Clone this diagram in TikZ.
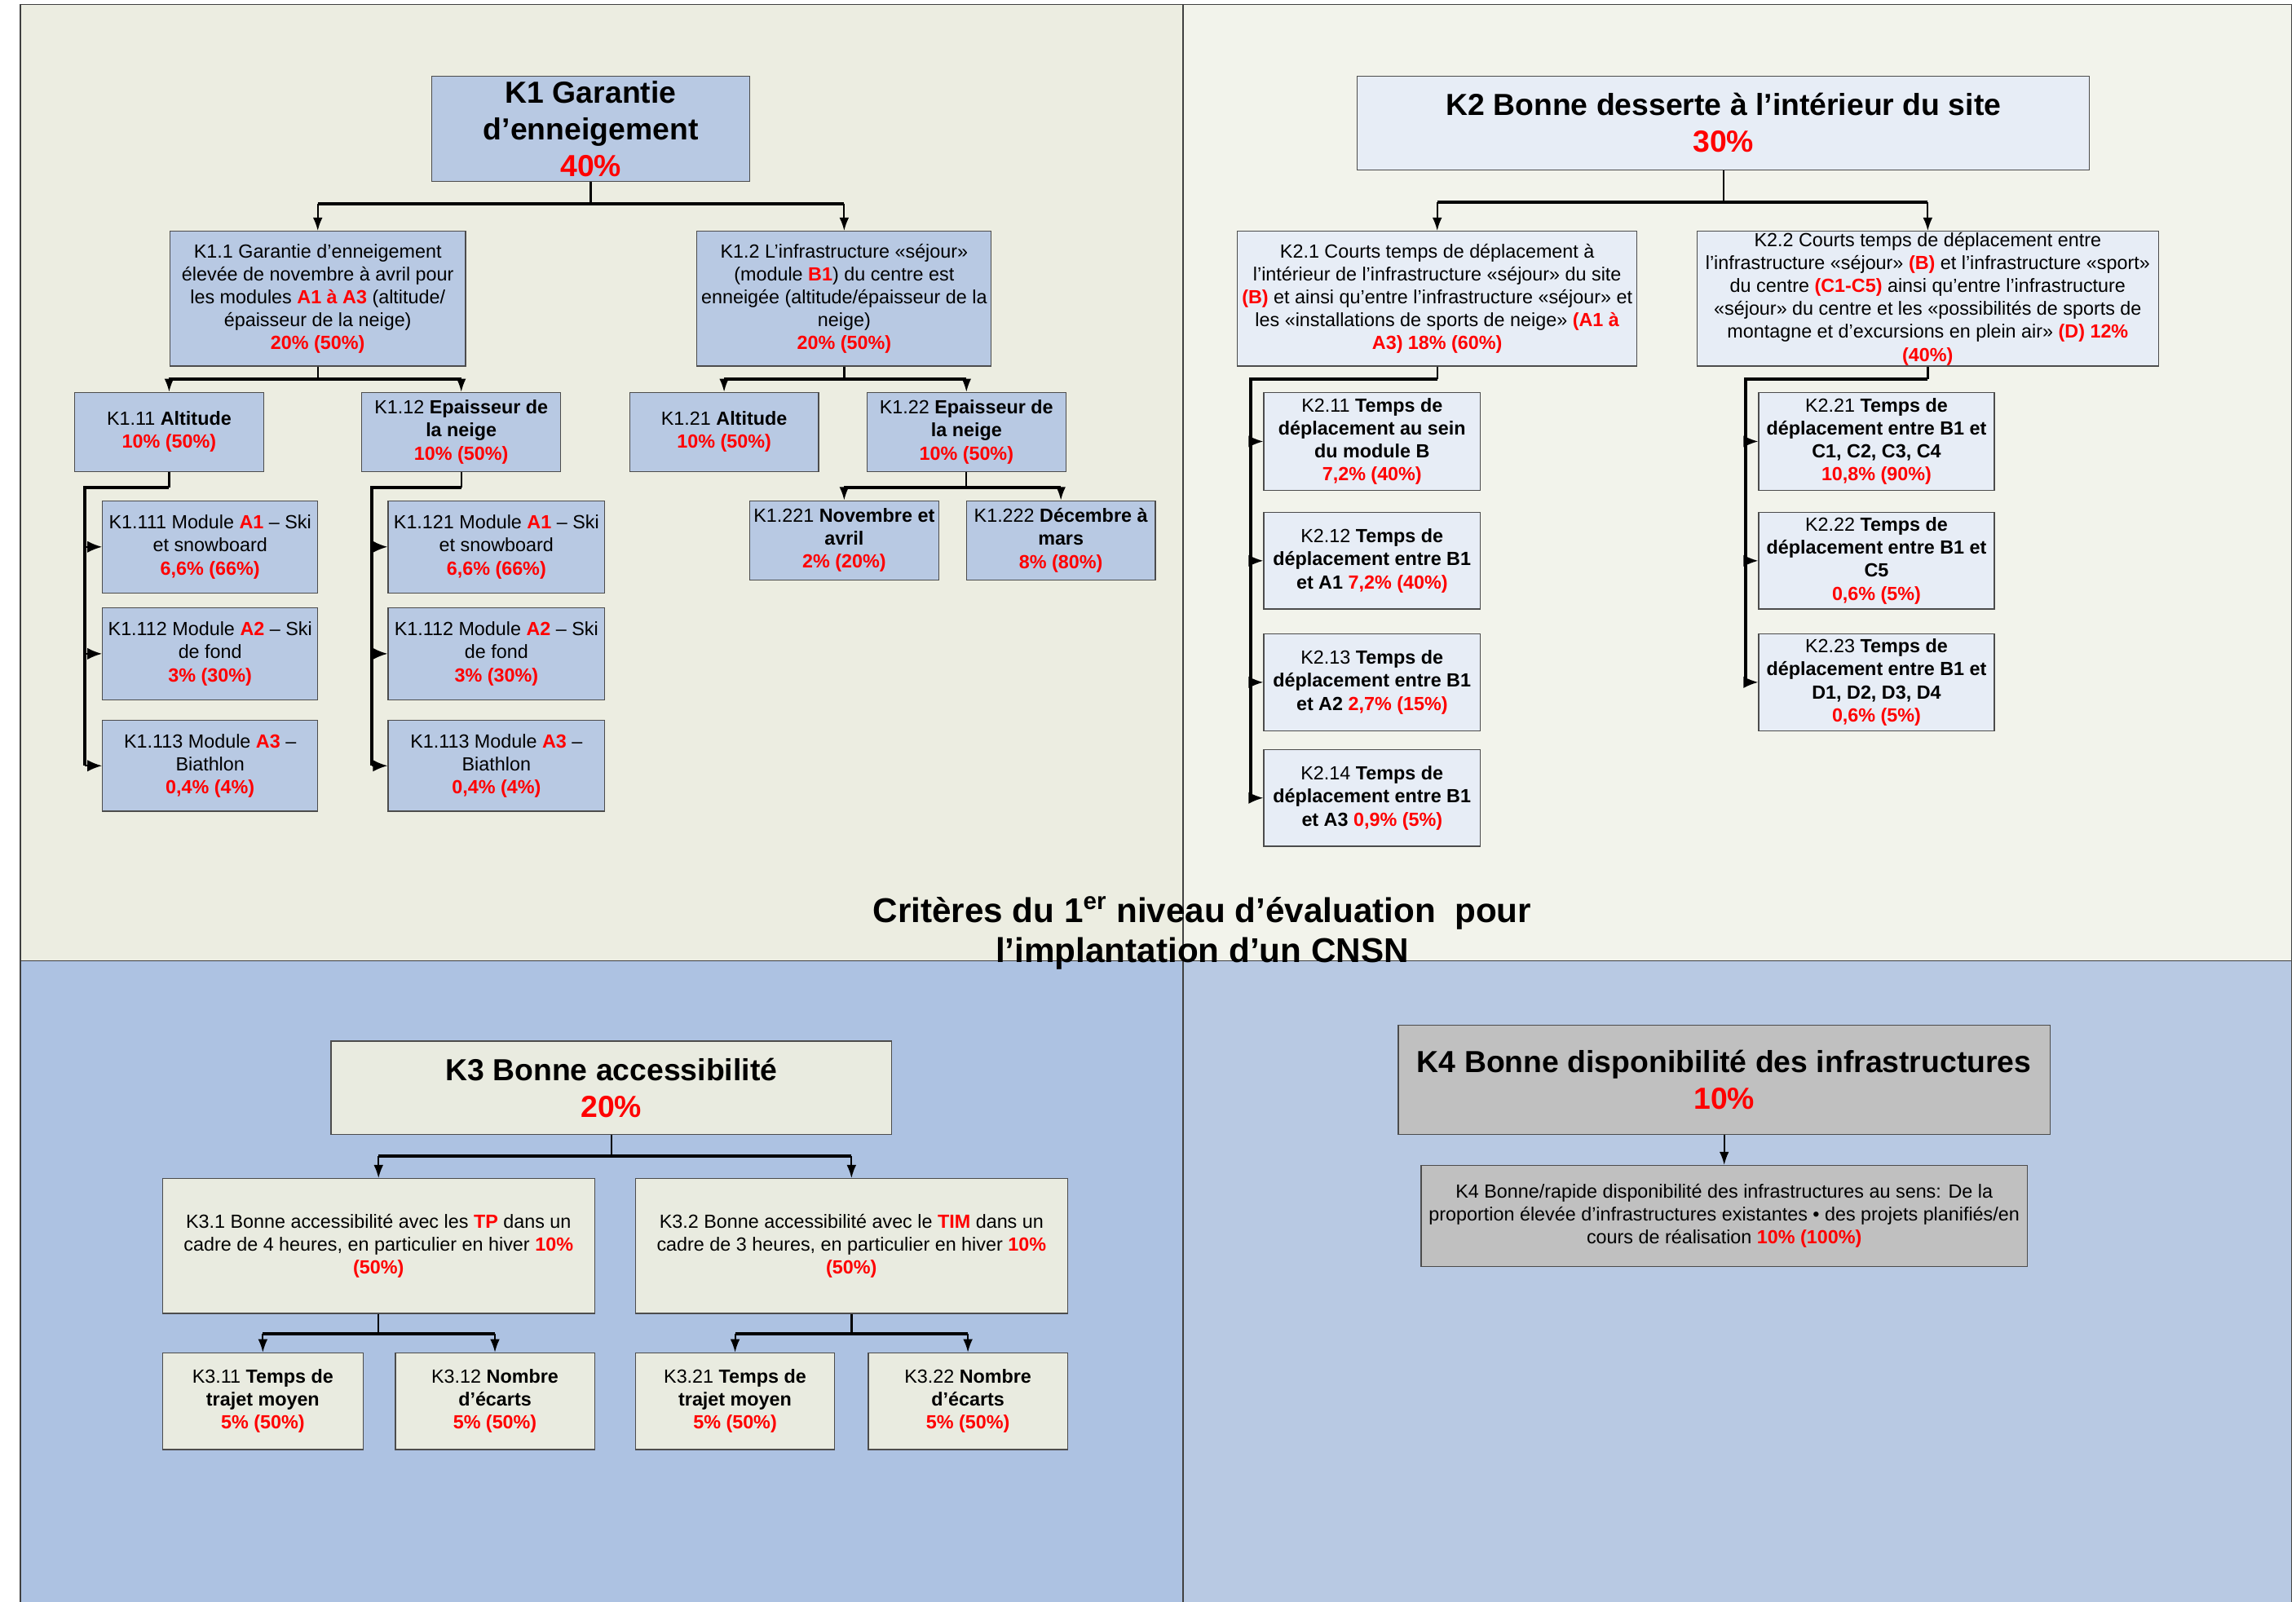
\documentclass[tikz,border=0pt]{standalone}
\usepackage{fontspec}
\setmainfont{Liberation Sans}
\usetikzlibrary{arrows.meta}
\definecolor{qtl}{HTML}{ECEDE1}
\definecolor{qtr}{HTML}{F2F3EB}
\definecolor{qbl}{HTML}{ADC2E2}
\definecolor{qbr}{HTML}{B8C9E3}
\definecolor{fone}{HTML}{B8C9E3}
\definecolor{ftwo}{HTML}{E7EDF6}
\definecolor{fthree}{HTML}{E9EBE0}
\definecolor{ffour}{HTML}{C0C0C0}
\definecolor{rd}{HTML}{FF0000}
\newcommand\rdb[1]{\textbf{\color{rd}#1}}
\begin{document}
\begin{tikzpicture}[x=1pt,y=-1pt,
  kbox/.style={draw=black!70, line width=0.7pt, inner sep=0pt, align=center,
    font=\fontsize{13}{15.7}\selectfont},
  ktitle/.style={kbox, font=\bfseries\fontsize{20.8}{25}\selectfont},
  sz/.style 2 args={minimum width=#1pt, minimum height=#2pt},
  bar/.style={line width=2.2pt},
  stem/.style={line width=1.3pt},
  arr/.style={line width=1.1pt, -{Latex[length=9pt,width=6.5pt]}},
  sarr/.style={line width=1.1pt, -{Latex[length=10pt,width=8pt]}},
  frame/.style={draw=black!75, line width=0.9pt}
]
\useasboundingbox (0,0) rectangle (1568,1094);
% quadrants
\fill[qtl] (14,3) rectangle (808,656);
\fill[qtr] (808,3) rectangle (1565,656);
\fill[qbl] (14,656) rectangle (808,1094);
\fill[qbr] (808,656) rectangle (1565,1094);
\draw[frame] (14,1094) -- (14,3) -- (1565,3) -- (1565,1094);
\draw[frame, line width=0.7pt] (808,3) -- (808,1094);
\draw[frame, line width=0.7pt] (14,656) -- (1565,656);

% ===== K1 =====
\node[ktitle, fill=fone, sz={217}{72}] (k1) at (403.5,88) {K1 Garantie\\d’enneigement\\\rdb{40\%}};
\node[kbox, fill=fone, sz={202}{92}] (k11) at (217,204) {K1.1 Garantie d’enneigement\\élevée de novembre à avril pour\\les modules \rdb{A1 à A3} (altitude/\\épaisseur de la neige)\\\rdb{20\% (50\%)}};
\node[kbox, fill=fone, sz={201}{92}] (k12) at (576.5,204) {K1.2 L’infrastructure «séjour»\\(module \rdb{B1}) du centre est\\enneigée (altitude/épaisseur de la\\neige)\\\rdb{20\% (50\%)}};
\node[kbox, fill=fone, sz={129}{54}] (k111) at (115.5,295) {K1.11 \textbf{Altitude}\\\rdb{10\% (50\%)}};
\node[kbox, fill=fone, sz={136}{54}] (k112) at (315,295) {K1.12 \textbf{Epaisseur de}\\\textbf{la neige}\\\rdb{10\% (50\%)}};
\node[kbox, fill=fone, sz={129}{54}] (k121) at (494.5,295) {K1.21 \textbf{Altitude}\\\rdb{10\% (50\%)}};
\node[kbox, fill=fone, sz={136}{54}] (k122) at (660,295) {K1.22 \textbf{Epaisseur de}\\\textbf{la neige}\\\rdb{10\% (50\%)}};
\node[kbox, fill=fone, sz={147}{63}] (k1111) at (143.5,373.5) {K1.111 Module \rdb{A1} – Ski\\et snowboard\\\rdb{6,6\% (66\%)}};
\node[kbox, fill=fone, sz={147}{63}] (k1112) at (143.5,446.5) {K1.112 Module \rdb{A2} – Ski\\de fond\\\rdb{3\% (30\%)}};
\node[kbox, fill=fone, sz={147}{62}] (k1113) at (143.5,523) {K1.113 Module \rdb{A3} –\\Biathlon\\\rdb{0,4\% (4\%)}};
\node[kbox, fill=fone, sz={148}{63}] (k1121) at (339,373.5) {K1.121 Module \rdb{A1} – Ski\\et snowboard\\\rdb{6,6\% (66\%)}};
\node[kbox, fill=fone, sz={148}{63}] (k1122) at (339,446.5) {K1.112 Module \rdb{A2} – Ski\\de fond\\\rdb{3\% (30\%)}};
\node[kbox, fill=fone, sz={148}{62}] (k1123) at (339,523) {K1.113 Module \rdb{A3} –\\Biathlon\\\rdb{0,4\% (4\%)}};
\node[kbox, fill=fone, sz={129}{54}] (k1221) at (576.5,369) {K1.221 \textbf{Novembre et}\\\textbf{avril}\\\rdb{2\% (20\%)}};
\node[kbox, fill=fone, sz={129}{54}] (k1222) at (724.5,369) {K1.222 \textbf{Décembre à}\\\textbf{mars}\\\rdb{8\% (80\%)}};

% K1 connectors
\coordinate (b1) at (403.5,139);
\draw[stem] (k1.south) -- (b1);
\draw[bar] (k11.north |- b1) -- (k12.north |- b1);
\draw[arr] (k11.north |- b1) -- (k11.north);
\draw[arr] (k12.north |- b1) -- (k12.north);
\coordinate (b11) at (217,259);
\draw[stem] (k11.south) -- (b11);
\draw[bar] (k111.north |- b11) -- (k112.north |- b11);
\draw[arr] (k111.north |- b11) -- (k111.north);
\draw[arr] (k112.north |- b11) -- (k112.north);
\coordinate (b12) at (576.5,259);
\draw[stem] (k12.south) -- (b12);
\draw[bar] (k121.north |- b12) -- (k122.north |- b12);
\draw[arr] (k121.north |- b12) -- (k121.north);
\draw[arr] (k122.north |- b12) -- (k122.north);
\coordinate (e111) at (58,333);
\draw[stem] (k111.south) -- (k111.south |- e111);
\draw[bar] (k111.south |- e111) -- (e111) -- (e111 |- k1113.west);
\draw[sarr] (e111 |- k1111.west) -- (k1111.west);
\draw[sarr] (e111 |- k1112.west) -- (k1112.west);
\draw[sarr] (e111 |- k1113.west) -- (k1113.west);
\coordinate (e112) at (254,333);
\draw[stem] (k112.south) -- (k112.south |- e112);
\draw[bar] (k112.south |- e112) -- (e112) -- (e112 |- k1123.west);
\draw[sarr] (e112 |- k1121.west) -- (k1121.west);
\draw[sarr] (e112 |- k1122.west) -- (k1122.west);
\draw[sarr] (e112 |- k1123.west) -- (k1123.west);
\coordinate (b122) at (660,333);
\draw[stem] (k122.south) -- (b122);
\draw[bar] (k1221.north |- b122) -- (k1222.north |- b122);
\draw[arr] (k1221.north |- b122) -- (k1221.north);
\draw[arr] (k1222.north |- b122) -- (k1222.north);

% ===== K2 =====
\node[ktitle, fill=ftwo, sz={500}{64}] (k2) at (1177,84) {K2 Bonne desserte à l’intérieur du site\\\rdb{30\%}};
\node[kbox, fill=ftwo, sz={273}{92}] (k21) at (981.5,204) {K2.1 Courts temps de déplacement à\\l’intérieur de l’infrastructure «séjour» du site\\\rdb{(B)} et ainsi qu’entre l’infrastructure «séjour» et\\les «installations de sports de neige» \rdb{(A1 à}\\\rdb{A3) 18\% (60\%)}};
\node[kbox, fill=ftwo, sz={315}{92}] (k22) at (1316.5,204) {K2.2 Courts temps de déplacement entre\\l’infrastructure «séjour» \rdb{(B)} et l’infrastructure «sport»\\du centre \rdb{(C1-C5)} ainsi qu’entre l’infrastructure\\«séjour» du centre et les «possibilités de sports de\\montagne et d’excursions en plein air» \rdb{(D) 12\%}\\\rdb{(40\%)}};
\node[kbox, fill=ftwo, sz={148}{67}] (k211) at (937,301.5) {K2.11 \textbf{Temps de}\\\textbf{déplacement au sein}\\\textbf{du module B}\\\rdb{7,2\% (40\%)}};
\node[kbox, fill=ftwo, sz={148}{66}] (k212) at (937,383) {K2.12 \textbf{Temps de}\\\textbf{déplacement entre B1}\\\textbf{et A1} \rdb{7,2\% (40\%)}};
\node[kbox, fill=ftwo, sz={148}{66}] (k213) at (937,466) {K2.13 \textbf{Temps de}\\\textbf{déplacement entre B1}\\\textbf{et A2} \rdb{2,7\% (15\%)}};
\node[kbox, fill=ftwo, sz={148}{66}] (k214) at (937,545) {K2.14 \textbf{Temps de}\\\textbf{déplacement entre B1}\\\textbf{et A3} \rdb{0,9\% (5\%)}};
\node[kbox, fill=ftwo, sz={161}{67}] (k221) at (1281.5,301.5) {K2.21 \textbf{Temps de}\\\textbf{déplacement entre B1 et}\\\textbf{C1, C2, C3, C4}\\\rdb{10,8\% (90\%)}};
\node[kbox, fill=ftwo, sz={161}{66}] (k222) at (1281.5,383) {K2.22 \textbf{Temps de}\\\textbf{déplacement entre B1 et}\\\textbf{C5}\\\rdb{0,6\% (5\%)}};
\node[kbox, fill=ftwo, sz={161}{66}] (k223) at (1281.5,466) {K2.23 \textbf{Temps de}\\\textbf{déplacement entre B1 et}\\\textbf{D1, D2, D3, D4}\\\rdb{0,6\% (5\%)}};

\coordinate (b2) at (1177,138);
\draw[stem] (k2.south) -- (b2);
\draw[bar] (k21.north |- b2) -- (k22.north |- b2);
\draw[arr] (k21.north |- b2) -- (k21.north);
\draw[arr] (k22.north |- b2) -- (k22.north);
\coordinate (e21) at (854,259);
\draw[stem] (k21.south) -- (k21.south |- e21);
\draw[bar] (k21.south |- e21) -- (e21) -- (e21 |- k214.west);
\draw[sarr] (e21 |- k211.west) -- (k211.west);
\draw[sarr] (e21 |- k212.west) -- (k212.west);
\draw[sarr] (e21 |- k213.west) -- (k213.west);
\draw[sarr] (e21 |- k214.west) -- (k214.west);
\coordinate (e22) at (1192,259);
\draw[stem] (k22.south) -- (k22.south |- e22);
\draw[bar] (k22.south |- e22) -- (e22) -- (e22 |- k223.west);
\draw[sarr] (e22 |- k221.west) -- (k221.west);
\draw[sarr] (e22 |- k222.west) -- (k222.west);
\draw[sarr] (e22 |- k223.west) -- (k223.west);

% ===== central title =====
\node[anchor=base, inner sep=0pt, font=\bfseries\fontsize{23.5}{27.5}\selectfont] (ttla) at (821,630) {Critères du 1\textsuperscript{er} niveau d’évaluation~ pour};
\node[anchor=base, inner sep=0pt, font=\bfseries\fontsize{23.5}{27.5}\selectfont] (ttlb) at (821,657.5) {l’implantation d’un CNSN};

% ===== K3 =====
\node[ktitle, fill=fthree, sz={383}{64}] (k3) at (417.5,743) {K3 Bonne accessibilité\\\rdb{20\%}};
\node[kbox, fill=fthree, sz={295}{92}] (k31) at (258.5,851) {K3.1 Bonne accessibilité avec les \rdb{TP} dans un\\cadre de 4 heures, en particulier en hiver \rdb{10\%}\\\rdb{(50\%)}};
\node[kbox, fill=fthree, sz={295}{92}] (k32) at (581.5,851) {K3.2 Bonne accessibilité avec le \rdb{TIM} dans un\\cadre de 3 heures, en particulier en hiver \rdb{10\%}\\\rdb{(50\%)}};
\node[kbox, fill=fthree, sz={137}{66}] (k311) at (179.5,957) {K3.11 \textbf{Temps de}\\\textbf{trajet moyen}\\\rdb{5\% (50\%)}};
\node[kbox, fill=fthree, sz={136}{66}] (k312) at (338,957) {K3.12 \textbf{Nombre}\\\textbf{d’écarts}\\\rdb{5\% (50\%)}};
\node[kbox, fill=fthree, sz={136}{66}] (k321) at (502,957) {K3.21 \textbf{Temps de}\\\textbf{trajet moyen}\\\rdb{5\% (50\%)}};
\node[kbox, fill=fthree, sz={136}{66}] (k322) at (661,957) {K3.22 \textbf{Nombre}\\\textbf{d’écarts}\\\rdb{5\% (50\%)}};

\coordinate (b3) at (417.5,789.5);
\draw[stem] (k3.south) -- (b3);
\draw[bar] (k31.north |- b3) -- (k32.north |- b3);
\draw[arr] (k31.north |- b3) -- (k31.north);
\draw[arr] (k32.north |- b3) -- (k32.north);
\coordinate (b31) at (258.5,911);
\draw[stem] (k31.south) -- (b31);
\draw[bar] (k311.north |- b31) -- (k312.north |- b31);
\draw[arr] (k311.north |- b31) -- (k311.north);
\draw[arr] (k312.north |- b31) -- (k312.north);
\coordinate (b32) at (581.5,911);
\draw[stem] (k32.south) -- (b32);
\draw[bar] (k321.north |- b32) -- (k322.north |- b32);
\draw[arr] (k321.north |- b32) -- (k321.north);
\draw[arr] (k322.north |- b32) -- (k322.north);

% ===== K4 =====
\node[ktitle, fill=ffour, sz={445}{75}] (k4) at (1177.5,737.5) {K4 Bonne disponibilité des infrastructures\\\rdb{10\%}};
\node[kbox, fill=ffour, sz={414}{69}] (k41) at (1177.5,830.5) {K4 Bonne/rapide disponibilité des infrastructures au sens: De la\\proportion élevée d’infrastructures existantes • des projets planifiés/en\\cours de réalisation \rdb{10\% (100\%)}};
\draw[arr] (k4.south) -- (k41.north);
\end{tikzpicture}
\end{document}
